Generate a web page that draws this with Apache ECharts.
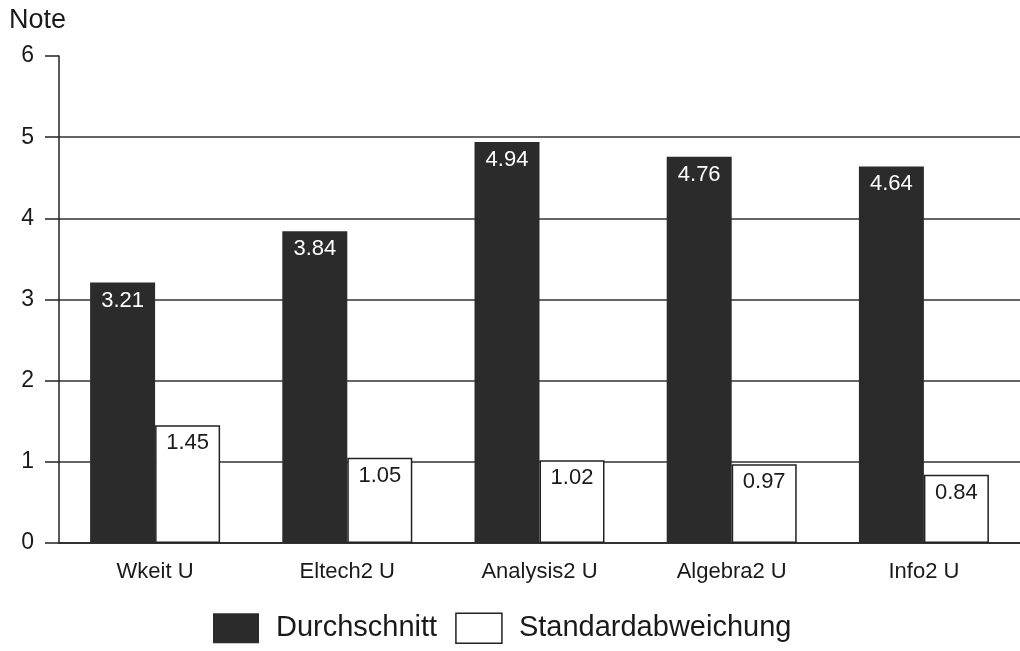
<!DOCTYPE html>
<html><head><meta charset="utf-8">
<script src="https://cdn.jsdelivr.net/npm/echarts@6/dist/echarts.min.js"></script>
<style>html,body{margin:0;padding:0;background:#fff}#c{width:1020px;height:651px}</style>
</head><body><div id="c"></div>
<script>
var categories = ['Wkeit U', 'Eltech2 U', 'Analysis2 U', 'Algebra2 U', 'Info2 U'];
var durchschnitt = [3.21, 3.84, 4.94, 4.76, 4.64];
var standardabweichung = [1.45, 1.05, 1.02, 0.97, 0.84];
var yTicks = [0, 1, 2, 3, 4, 5, 6];

var font = 'Liberation Sans, Arial, Helvetica, sans-serif';
var chart = echarts.init(document.getElementById('c'), null, {renderer: 'canvas'});
chart.setOption({
  backgroundColor: '#fff',
  animation: false,
  title: {text: 'Note', left: 4, top: 2, textStyle: {fontFamily: font, fontSize: 27, fontWeight: 'normal', color: '#1a1a1a'}},
  legend: {
    bottom: 2, left: 208,
    icon: 'rect',
    itemWidth: 46, itemHeight: 30, itemGap: 18,
    textStyle: {fontFamily: font, fontSize: 29, color: '#1a1a1a', padding: [0, 0, 0, 12]},
    data: [
      {name: 'Durchschnitt', itemStyle: {color: '#2b2b2b', borderColor: '#2b2b2b', borderWidth: 0}},
      {name: 'Standardabweichung', itemStyle: {color: '#fff', borderColor: '#222', borderWidth: 1.5}}
    ]
  },
  grid: {left: 59, top: 56, width: 975, height: 487, containLabel: false},
  xAxis: {
    type: 'category', data: categories,
    axisLine: {show: true, lineStyle: {color: '#222', width: 1.5}},
    axisTick: {show: false},
    axisLabel: {fontFamily: font, fontSize: 22, color: '#1a1a1a', margin: 18}
  },
  yAxis: {
    type: 'value', min: yTicks[0], max: yTicks[yTicks.length - 1], interval: 1,
    axisLine: {show: true, lineStyle: {color: '#222', width: 1.5}},
    axisTick: {show: true, length: 14, lineStyle: {color: '#222', width: 1.5}},
    axisLabel: {fontFamily: font, fontSize: 23, color: '#1a1a1a', margin: 25},
    splitLine: {show: true, showMaxLine: false, lineStyle: {color: '#333', width: 1.5}}
  },
  series: [
    {
      name: 'Durchschnitt', type: 'bar', data: durchschnitt,
      barWidth: 65, barGap: '0%',
      itemStyle: {color: '#2b2b2b'},
      label: {show: true, position: 'insideTop', distance: 7, formatter: function (p) { return p.value.toFixed(2); },
        fontFamily: font, fontSize: 22, color: '#fff'}
    },
    {
      name: 'Standardabweichung', type: 'bar', data: standardabweichung,
      barWidth: 65, barGap: '0%',
      itemStyle: {color: '#fff', borderColor: '#222', borderWidth: 1.5},
      label: {show: true, position: 'insideTop', distance: 7, formatter: function (p) { return p.value.toFixed(2); },
        fontFamily: font, fontSize: 22, color: '#1a1a1a'}
    }
  ]
});
</script></body></html>
